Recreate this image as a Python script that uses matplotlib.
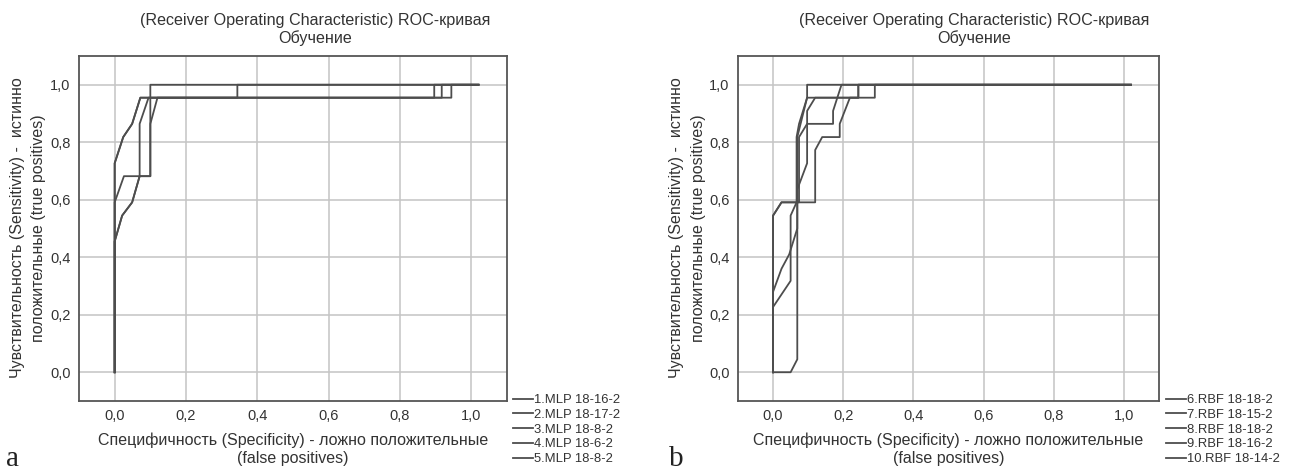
import matplotlib
matplotlib.use("Agg")
import matplotlib.pyplot as plt
import numpy as np

plt.rcParams['font.family'] = ['Liberation Sans', 'DejaVu Sans']

W, H = 1289, 470

# ---- данные: ROC-кривые, обучение ----
mlp_names = ["1.MLP 18-16-2", "2.MLP 18-17-2", "3.MLP 18-8-2", "4.MLP 18-6-2", "5.MLP 18-8-2"]
mlp_fpr = [
    [0, 0, 0.026, 0.10, 0.10, 1.02],
    [0, 0, 0.024, 0.049, 0.072, 0.344, 0.344, 1.02],
    [0, 0, 0.021, 0.049, 0.070, 0.070, 0.095, 0.896, 0.896, 1.02],
    [0, 0, 0.021, 0.049, 0.070, 0.10, 0.10, 0.12, 0.944, 0.944, 1.02],
    [0, 0, 0.024, 0.049, 0.072, 0.917, 0.917, 1.02],
]
mlp_tpr = [
    [0, 0.591, 0.682, 0.682, 1.0, 1.0],
    [0, 0.727, 0.818, 0.864, 0.955, 0.955, 1.0, 1.0],
    [0, 0.455, 0.545, 0.591, 0.682, 0.864, 0.955, 0.955, 1.0, 1.0],
    [0, 0.455, 0.545, 0.591, 0.682, 0.682, 0.864, 0.955, 0.955, 1.0, 1.0],
    [0, 0.727, 0.818, 0.864, 0.955, 0.955, 1.0, 1.0],
]

rbf_names = ["6.RBF 18-18-2", "7.RBF 18-15-2", "8.RBF 18-18-2", "9.RBF 18-16-2", "10.RBF 18-14-2"]
rbf_fpr = [
    [0, 0, 0.024, 0.12, 0.12, 0.14, 0.19, 0.19, 0.219, 0.29, 0.29, 1.02],
    [0, 0, 0.05, 0.05, 0.067, 0.067, 0.074, 0.097, 0.243, 0.243, 1.02],
    [0, 0, 0.024, 0.046, 0.069, 0.069, 0.097, 0.097, 0.171, 0.171, 0.195, 1.02],
    [0, 0.05, 0.069, 0.069, 0.097, 0.097, 1.02],
    [0, 0, 0.024, 0.074, 0.074, 0.097, 0.097, 0.12, 0.243, 0.243, 1.02],
]
rbf_tpr = [
    [0, 0.545, 0.591, 0.591, 0.773, 0.818, 0.818, 0.864, 0.955, 0.955, 1.0, 1.0],
    [0, 0.227, 0.318, 0.545, 0.591, 0.818, 0.864, 0.955, 0.955, 1.0, 1.0],
    [0, 0.28, 0.36, 0.41, 0.50, 0.636, 0.727, 0.864, 0.864, 0.909, 1.0, 1.0],
    [0, 0, 0.045, 0.818, 0.955, 1.0, 1.0],
    [0, 0.545, 0.591, 0.591, 0.818, 0.864, 0.909, 0.955, 0.955, 1.0, 1.0],
]

ticks = [0.0, 0.2, 0.4, 0.6, 0.8, 1.0]
tick_labels = ["0,0", "0,2", "0,4", "0,6", "0,8", "1,0"]
title1 = "(Receiver Operating Characteristic) ROC-кривая"
title2 = "Обучение"
ylab1 = "Чувствительность (Sensitivity) -  истинно"
ylab2 = "положительные (true positives)"
xlab1 = "Специфичность (Specificity) - ложно положительные"
xlab2 = "(false positives)"

line_c = "#4d4d4d"
grid_c = "#c4c4c4"


def fx(px):
    return px / W


def fy(py):
    return 1 - py / H


fig = plt.figure(figsize=(W / 100, H / 100), dpi=100)


def panel(x0, x1, fprs, tprs, names, title_x, ylab_x, leg_x, letter_x, letter):
    ax = fig.add_axes([fx(x0), fy(401), fx(x1 - x0), (401 - 56) / H])
    ax.set_xlim(-0.1, 1.1)
    ax.set_ylim(-0.1, 1.1)
    for f, t, n in zip(fprs, tprs, names):
        ax.plot(f, t, color=line_c, lw=1.3, label=n)
    ax.set_xticks(ticks)
    ax.set_yticks(ticks)
    ax.set_xticklabels(tick_labels)
    ax.set_yticklabels(tick_labels)
    ax.tick_params(length=0, labelsize=10.5, colors="#333333", pad=6)
    ax.grid(True, color=grid_c, lw=1.1)
    ax.set_axisbelow(True)
    for s in ax.spines.values():
        s.set_color("#555555")
        s.set_linewidth(1.3)
    xc = (x0 + x1) / 2
    fig.text(fx(title_x), fy(21), title1, ha="center", va="center", fontsize=11.6, color="#333333")
    fig.text(fx(title_x), fy(38), title2, ha="center", va="center", fontsize=11.6, color="#333333")
    fig.text(fx(xc), fy(440), xlab1, ha="center", va="center", fontsize=11.5, color="#333333")
    fig.text(fx(xc), fy(458), xlab2, ha="center", va="center", fontsize=11.5, color="#333333")
    fig.text(fx(ylab_x), fy(228), ylab1, ha="center", va="center", rotation=90, fontsize=11.5, color="#333333")
    fig.text(fx(ylab_x + 21), fy(228), ylab2, ha="center", va="center", rotation=90, fontsize=11.5, color="#333333")
    fig.text(fx(letter_x), fy(466), letter, ha="left", va="baseline", fontsize=21,
             family=["Liberation Serif", "DejaVu Serif"], color="#222222")
    ax.legend(loc="upper left", bbox_to_anchor=(fx(leg_x), fy(394)), bbox_transform=fig.transFigure,
              frameon=False, fontsize=9.4, handlelength=1.5, handletextpad=0.1, labelspacing=0.2,
              borderpad=0, borderaxespad=0, labelcolor="#333333")
    return ax


panel(79, 507, mlp_fpr, mlp_tpr, mlp_names, 315, 18, 513, 6, "a")
panel(738, 1159, rbf_fpr, rbf_tpr, rbf_names, 974, 677, 1166, 669, "b")

fig.savefig("out.png", dpi=100, facecolor="white")
